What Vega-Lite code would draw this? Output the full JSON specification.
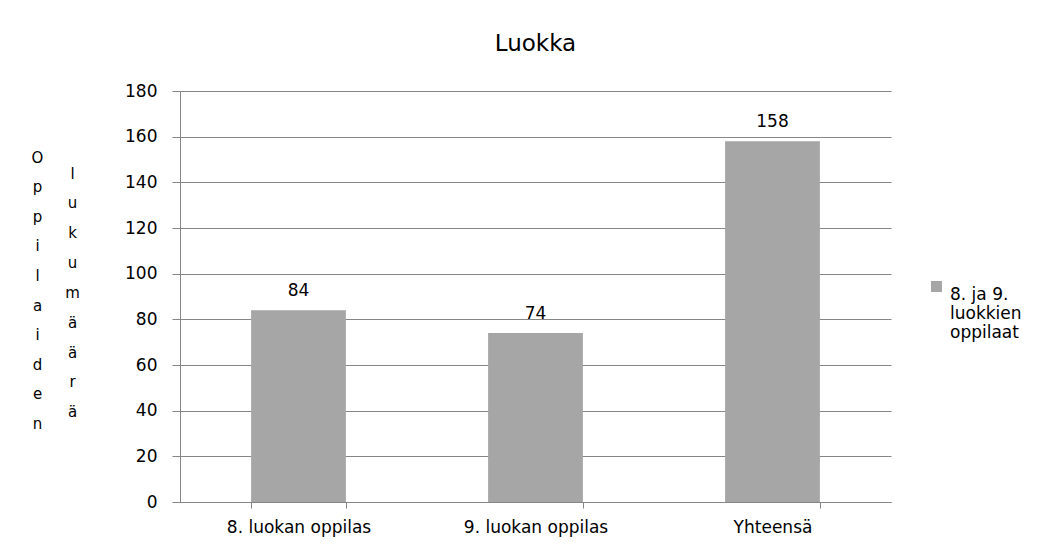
{
  "$schema": "https://vega.github.io/schema/vega-lite/v6.json",
  "width": 711,
  "height": 411,
  "autosize": {"type": "none"},
  "padding": {"left": 180, "top": 91, "right": 147, "bottom": 49},
  "background": "white",
  "config": {"font": "DejaVu Sans", "view": {"stroke": null}},
  "title": {"text": "Luokka", "fontSize": 23, "font": "DejaVu Sans", "fontWeight": "normal", "anchor": "middle", "baseline": "alphabetic", "offset": 8, "color": "#000000"},
  "data": {"values": [
    {"luokka": "8. luokan oppilas", "maara": 84, "sarja": "8. ja 9. luokkien oppilaat"},
    {"luokka": "9. luokan oppilas", "maara": 74, "sarja": "8. ja 9. luokkien oppilaat"},
    {"luokka": "Yhteensä", "maara": 158, "sarja": "8. ja 9. luokkien oppilaat"}
  ]},
  "encoding": {
    "x": {
      "field": "luokka", "type": "nominal", "sort": null,
      "scale": {"paddingInner": 0.6, "paddingOuter": 0.3},
      "axis": {
        "title": null, "labelAngle": 0, "labelFontSize": 17, "labelFont": "DejaVu Sans", "labelColor": "#000000",
        "tickBand": "extent", "tickSize": 6, "tickColor": "#868686", "domainColor": "#868686",
        "labelPadding": 11, "grid": false
      }
    }
  },
  "layer": [
    {
      "mark": {"type": "bar"},
      "encoding": {
        "y": {
          "field": "maara", "type": "quantitative",
          "scale": {"domain": [0, 180], "nice": false},
          "axis": {
            "values": [0, 20, 40, 60, 80, 100, 120, 140, 160, 180],
            "grid": true, "gridColor": "#868686", "domainColor": "#868686", "tickColor": "#868686",
            "tickSize": 8, "labelPadding": 15, "labelFontSize": 17, "labelFont": "DejaVu Sans", "labelColor": "#000000",
            "title": ["O", "p", "p", "i", "l", "a", "i", "d", "e", "n"],
            "titleAngle": 0, "titleAlign": "center", "titleBaseline": "alphabetic",
            "titleX": -143, "titleY": 71, "titleLineHeight": 29.6,
            "titleFontSize": 15, "titleFontWeight": "normal", "titleFont": "DejaVu Sans", "titleColor": "#000000"
          }
        },
        "color": {
          "field": "sarja", "type": "nominal",
          "scale": {"range": ["#A6A6A6"]},
          "legend": {
            "title": null, "orient": "none", "legendX": 748, "legendY": 187,
            "symbolType": "square", "symbolSize": 121, "symbolStrokeWidth": 0,
            "labelFontSize": 17, "labelFont": "DejaVu Sans", "labelColor": "#000000", "labelOffset": 5,
            "labelBaseline": "top", "labelLineHeight": 19,
            "labelExpr": "[slice(datum.label, 0, 8), slice(datum.label, 9, 17), slice(datum.label, 18)]"
          }
        }
      }
    },
    {
      "mark": {"type": "text", "dy": -14.5, "fontSize": 17, "font": "DejaVu Sans", "color": "#000000", "baseline": "alphabetic", "align": "center"},
      "encoding": {
        "y": {
          "field": "maara", "type": "quantitative",
          "scale": {"domain": [0, 180], "nice": false},
          "axis": {
            "orient": "right", "labels": false, "ticks": false, "domain": false, "grid": false,
            "title": ["l", "u", "k", "u", "m", "ä", "ä", "r", "ä"],
            "titleAngle": 0, "titleAlign": "center", "titleBaseline": "alphabetic",
            "titleX": -819, "titleY": 87, "titleLineHeight": 29.85,
            "titleFontSize": 15, "titleFontWeight": "normal", "titleFont": "DejaVu Sans", "titleColor": "#000000"
          }
        },
        "text": {"field": "maara", "type": "quantitative"}
      }
    }
  ],
  "resolve": {"scale": {"y": "independent"}, "axis": {"y": "independent"}}
}
